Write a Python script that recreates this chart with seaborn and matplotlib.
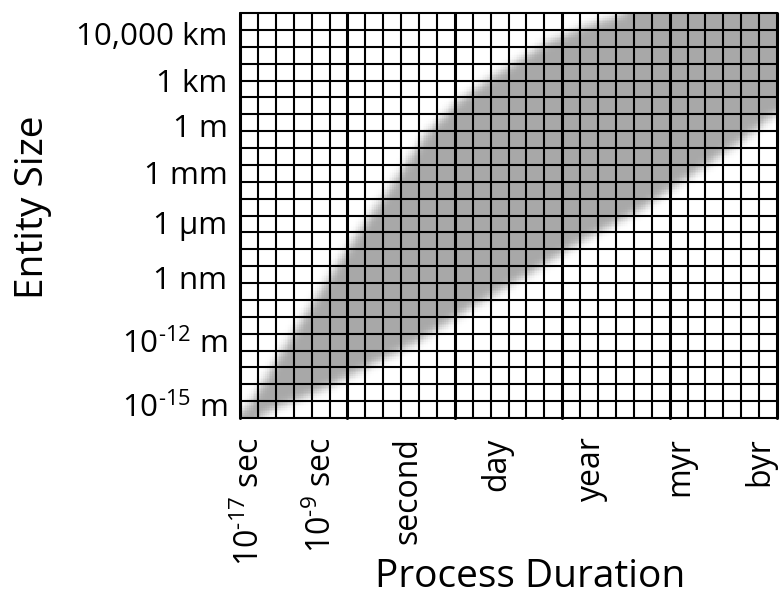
import numpy as np
import matplotlib.pyplot as plt
import seaborn as sns
from matplotlib.colors import LinearSegmentedColormap

# %%
# grid of 30 x 24 cells; tick positions are in cell units
n_cols, n_rows = 30, 24

duration_labels = [r'$10^{\text{-}17}$ sec', r'$10^{\text{-}9}$ sec', 'second', 'day', 'year', 'myr', 'byr']
duration_pos = [0.56, 4.58, 9.39, 14.36, 19.66, 24.58, 29.05]

size_labels = ['10,000 km', '1 km', '1 m', '1 mm', '1 µm', '1 nm',
               r'$10^{\text{-}12}$ m', r'$10^{\text{-}15}$ m']
size_pos = [22.8, 20.0, 17.36, 14.57, 11.6, 8.3, 4.6, 0.77]

# upper / lower edge of the shaded band (cell units)
upper_x = [0.0, 0.73, 2.40, 4.19, 6.59, 7.93, 10.45, 12.29, 14.13, 17.15, 19.16, 21.62]
upper_y = [0.2, 1.07, 4.03, 6.99, 10.96, 12.92, 16.89, 18.84, 20.21, 22.22, 23.17, 24.0]
lower_x = [1.01, 1.84, 4.30, 9.89, 12.85, 16.03, 18.99, 22.51, 27.93, 30.0]
lower_y = [0.0, 0.53, 1.54, 4.50, 6.52, 8.47, 10.43, 12.44, 16.36, 18.13]

# %%
sns.set_theme(style='white')
plt.rcParams['font.family'] = ['Open Sans', 'DejaVu Sans']
plt.rcParams['mathtext.fontset'] = 'custom'
plt.rcParams['mathtext.rm'] = 'Open Sans'
plt.rcParams['mathtext.default'] = 'regular'

# raster of the band, soft edges via a small gaussian blur
sub = 10
xc = (np.arange(n_cols * sub) + 0.5) / sub
yc = n_rows - (np.arange(n_rows * sub) + 0.5) / sub
up = np.interp(xc, upper_x, upper_y)
lo = np.interp(xc, lower_x, lower_y)
band = ((yc[:, None] <= up[None, :]) & (yc[:, None] >= lo[None, :])).astype(float)

def blur(a, sigma):
    r = int(3 * sigma)
    k = np.exp(-0.5 * (np.arange(-r, r + 1) / sigma) ** 2)
    k /= k.sum()
    p = np.pad(a, r, mode='edge')
    p = np.apply_along_axis(lambda v: np.convolve(v, k, mode='valid'), 0, p)
    p = np.apply_along_axis(lambda v: np.convolve(v, k, mode='valid'), 1, p)
    return p

band = blur(band, 2.6)

# %%
fig = plt.figure(figsize=(7.81, 5.96), dpi=100)
ax = fig.add_axes([240 / 781, 1 - 418 / 596, 537 / 781, 405 / 596])
cmap = LinearSegmentedColormap.from_list('band', ['white', '#a8a8a8'])
sns.heatmap(band, cmap=cmap, vmin=0, vmax=1, cbar=False,
            xticklabels=False, yticklabels=False, ax=ax, rasterized=True)

for k in range(n_cols + 1):
    ax.axvline(k * sub, color='black', lw=2.2 if k % 6 == 0 else 1.5, clip_on=False)
for k in range(n_rows + 1):
    ax.axhline(k * sub, color='black', lw=1.5, clip_on=False)

ax.set_xticks([p * sub for p in duration_pos])
ax.set_xticklabels(duration_labels, rotation=90, fontsize=23, color='black')
ax.set_yticks([(n_rows - p) * sub for p in size_pos])
ax.set_yticklabels(size_labels, rotation=0, fontsize=22.5, color='black')
ax.tick_params(axis='x', length=0, pad=14)
ax.tick_params(axis='y', length=0, pad=9)

ax.set_xlabel('Process Duration', fontsize=28, color='black')
ax.set_ylabel('Entity Size', fontsize=28, color='black')
ax.xaxis.set_label_coords(0.54, -0.345)
ax.yaxis.set_label_coords(-0.35, 0.52)

plt.savefig('out.png', dpi=100)
